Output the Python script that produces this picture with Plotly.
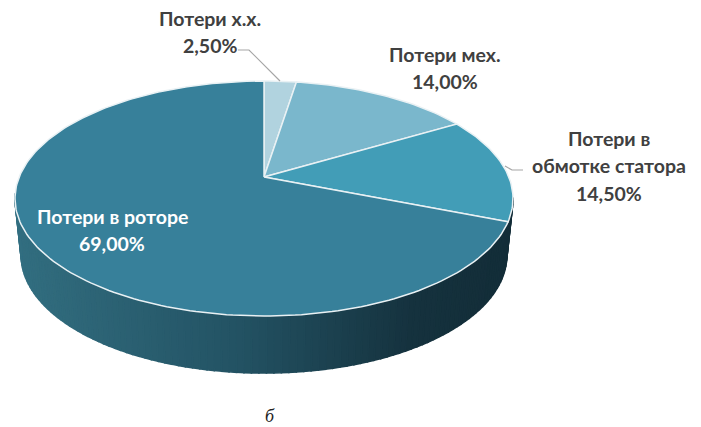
import math
import plotly.graph_objects as go

# ---- data ----
slice_names = ["Потери х.х.", "Потери мех.", "Потери в обмотке статора", "Потери в роторе"]
slice_values = [2.5, 14.0, 14.5, 69.0]
caption = "б"

# ---- style ----
slice_colors = ["#b1d3df", "#7ab7cc", "#429db7", "#37809a"]
label_lines = [["Потери х.х."], ["Потери мех."], ["Потери в", "обмотке статора"], ["Потери в роторе"]]
label_centers = [(210, 18), (445, 54), (609, 138), (112, 216)]
label_colors = ["#404040", "#404040", "#404040", "#ffffff"]
FONT = "Lato"
FS = 19.5
LINE = 27.5

CX, CY, R, S, K = 264, 177, 244.8, 113.6, 0.183
DEPTH = 57
BOTTOM_SCALE = 0.975


def proj(theta, dy=0.0, sx=1.0):
    u, v = math.sin(theta), math.cos(theta)
    d = 1 + K * v
    return CX + sx * R * u / d, CY - S * v / d + dy


def lerp_color(t):
    stops = [(0.0, (50, 110, 128)), (0.45, (35, 82, 99)), (0.8, (21, 50, 62)), (1.0, (19, 45, 56))]
    for (a, ca), (b, cb) in zip(stops, stops[1:]):
        if t <= b:
            f = (t - a) / (b - a)
            return "rgb(%d,%d,%d)" % tuple(round(x + (y - x) * f) for x, y in zip(ca, cb))
    return "rgb(19,45,56)"


fig = go.Figure()

# side wall of the disc, drawn as thin strips along the front rim
N = 110
a0, a1 = math.radians(100), math.radians(262)
for i in range(N):
    t0 = a0 + (a1 - a0) * i / N
    t1 = a0 + (a1 - a0) * (i + 1) / N
    top_a, top_b = proj(t0), proj(t1)
    bot_a, bot_b = proj(t0, DEPTH, BOTTOM_SCALE), proj(t1, DEPTH, BOTTOM_SCALE)
    mid_x = (top_a[0] + top_b[0]) / 2
    col = lerp_color((mid_x - 15) / (513 - 15))
    fig.add_trace(go.Scatter(
        x=[top_a[0], top_b[0], bot_b[0], bot_a[0], top_a[0]],
        y=[top_a[1], top_b[1], bot_b[1], bot_a[1], top_a[1]],
        mode="lines", fill="toself", fillcolor=col,
        line=dict(color=col, width=1.6), hoverinfo="skip", showlegend=False))

# top face
total = sum(slice_values)
start = 0.0
for name, val, col in zip(slice_names, slice_values, slice_colors):
    end = start + val
    steps = max(4, int(val * 3))
    xs, ys = [CX], [CY]
    for j in range(steps + 1):
        th = 2 * math.pi * (start + (end - start) * j / steps) / total
        px, py = proj(th)
        xs.append(px)
        ys.append(py)
    xs.append(CX)
    ys.append(CY)
    fig.add_trace(go.Scatter(
        x=xs, y=ys, mode="lines", fill="toself", fillcolor=col,
        line=dict(color="#e9f1f4", width=1.5), name=name,
        hoverinfo="name", showlegend=False))
    start = end

# labels
ann = []
for lines, val, (lx, ly), tc in zip(label_lines, slice_values, label_centers, label_colors):
    all_lines = lines + [f"{val:.2f}%".replace(".", ",")]
    for k, txt in enumerate(all_lines):
        ann.append(dict(x=lx, y=ly + k * LINE, text=txt, showarrow=False, xanchor="center",
                        yanchor="middle", font=dict(family=FONT, size=FS, color=tc, weight="bold")))
ann.append(dict(x=270, y=416, text=f"<i>{caption}</i>", showarrow=False,
                font=dict(family="Liberation Serif", size=18, color="#222222")))

leaders = [
    dict(type="path", path="M 238 50 L 249 50 L 280 81", line=dict(color="#a6a6a6", width=1.2)),
    dict(type="path", path="M 505 166 L 512 170 L 523 170", line=dict(color="#a6a6a6", width=1.2)),
]

fig.update_layout(
    width=701, height=427, margin=dict(l=0, r=0, t=0, b=0),
    paper_bgcolor="white", plot_bgcolor="white", showlegend=False,
    xaxis=dict(range=[0, 701], visible=False, fixedrange=True),
    yaxis=dict(range=[427, 0], visible=False, fixedrange=True),
    annotations=ann, shapes=leaders)

fig.write_html("out.html", config={"displayModeBar": False},
               post_script="document.body.style.margin='0';document.documentElement.style.overflow='hidden';")
